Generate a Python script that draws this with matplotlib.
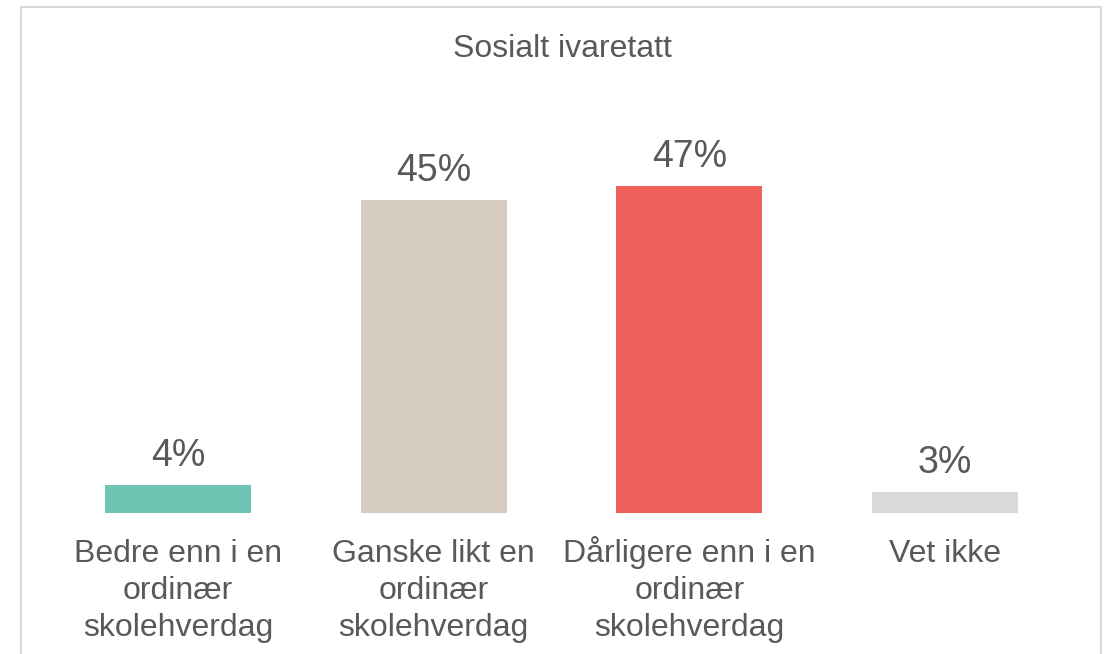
import matplotlib.pyplot as plt
from matplotlib.patches import Rectangle
from matplotlib.transforms import blended_transform_factory

plt.rcParams['font.family'] = ['Liberation Sans', 'DejaVu Sans']

categories = ['Bedre enn i en\nordinær\nskolehverdag',
              'Ganske likt en\nordinær\nskolehverdag',
              'Dårligere enn i en\nordinær\nskolehverdag',
              'Vet ikke']
values = [4, 45, 47, 3]
colors = ['#70C4B4', '#D6CDC0', '#F0605A', '#D9D9D9']
title = 'Sosialt ivaretatt'

txt = '#595959'

fig = plt.figure(figsize=(11.04, 6.54), dpi=100)
ax = fig.add_axes([50/1104, 141/654, 1023/1104, 417.6/654])

x = range(len(categories))
bars = ax.bar(x, values, width=0.57, color=colors)

for b, v in zip(bars, values):
    ax.annotate(f'{v}%', (b.get_x() + b.get_width()/2, v),
                xytext=(0, 13.5), textcoords='offset points',
                ha='center', va='baseline', fontsize=27, color=txt)

# category labels under the bars, one text per line so baselines are even
trans = blended_transform_factory(ax.transData, fig.transFigure)
for i, c in zip(x, categories):
    for k, line in enumerate(c.split('\n')):
        ax.text(i, 1 - (562 + 37*k)/654, line, transform=trans,
                ha='center', va='baseline', fontsize=23, color=txt)

ax.set_xlim(-0.5, len(categories) - 0.5)
ax.set_ylim(0, 60)
ax.set_xticks([])
ax.set_yticks([])
for s in ax.spines.values():
    s.set_visible(False)

fig.text(562/1104, 1 - 57/654, title, ha='center', va='baseline',
         fontsize=23, color=txt)

fig.patches.append(Rectangle((21/1104, -0.1), 1080/1104, 1.1 - 7/654,
                             transform=fig.transFigure, fill=False,
                             edgecolor='#D9D9D9', linewidth=1.5))

fig.savefig('out.png', dpi=100)
